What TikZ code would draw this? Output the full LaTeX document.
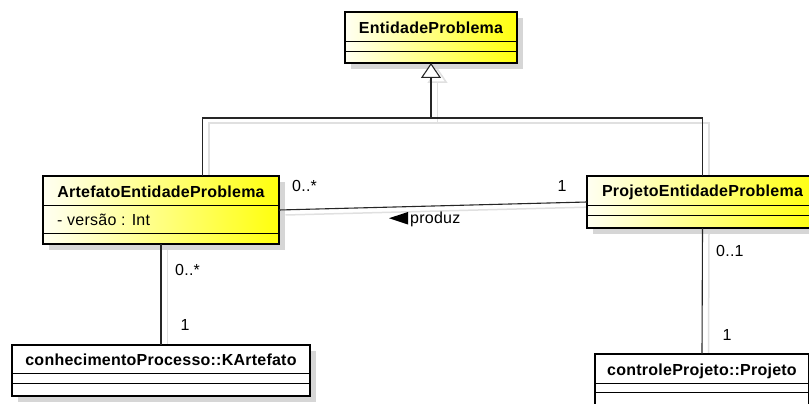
\documentclass[tikz,border=0pt]{standalone}
\usepackage{fontspec}
\setmainfont[LetterSpace=1.5]{Liberation Sans}
\usetikzlibrary{arrows.meta,shadows}

\tikzset{
  classbox/.style={draw=black, line width=1.8pt, inner sep=0pt, outer sep=0pt,
    anchor=north west, left color=yellow!5, right color=yellow!95!white,
    drop shadow={shadow xshift=6pt, shadow yshift=-6pt, fill=black!16, opacity=1}},
  plainbox/.style={draw=black, line width=1.8pt, inner sep=0pt, outer sep=0pt,
    anchor=north west, fill=white,
    drop shadow={shadow xshift=6pt, shadow yshift=-6pt, fill=black!16, opacity=1}},
  compart/.style={line width=1pt},
  conn/.style={draw=black!85, line width=1.1pt},
  connshadow/.style={draw=black!12, line width=1.5pt,
    transform canvas={xshift=6.5pt, yshift=-5pt}},
  title/.style={anchor=base, inner sep=0pt, font=\fontsize{16}{19}\selectfont\bfseries},
  attr/.style={anchor=base west, inner sep=0pt, font=\fontsize{16}{19}\selectfont},
  mult/.style={anchor=base west, inner sep=0pt, font=\fontsize{16}{19}\selectfont},
  gentip/.style={-{Triangle[fill=white, length=15pt, width=20pt]}}
}

\begin{document}
\begin{tikzpicture}[x=1pt, y=-1pt]
\useasboundingbox (0,0) rectangle (809,404);
\clip (0,0) rectangle (809,404);

% class boxes (geometry only, texts follow)
\node[classbox, minimum width=172pt, minimum height=51pt] (ent) at (345,12) {};
\node[classbox, minimum width=236pt, minimum height=68pt] (art) at (43,176) {};
\node[classbox, minimum width=231pt, minimum height=52pt] (proj) at (587,176) {};
\node[plainbox, minimum width=298pt, minimum height=51pt] (kart) at (12,345) {};
\node[plainbox, minimum width=214pt, minimum height=54pt] (cproj) at (595,354) {};

% junction of the generalization tree
\coordinate (gj) at (431,118);
\coordinate (artTop) at (202.5,176);

% connector shadows
\draw[connshadow] (artTop) |- (gj) -| (proj.north);
\draw[connshadow, gentip] (gj) -- (ent.south);
\draw[connshadow] (art.east) -- (proj.west);
\draw[connshadow] (art.south) -- (kart.north);
\draw[connshadow] (proj.south) -- (cproj.north);

% redraw boxes above the connector shadows
\node[classbox, minimum width=172pt, minimum height=51pt] at (345,12) {};
\node[classbox, minimum width=236pt, minimum height=68pt] at (43,176) {};
\node[classbox, minimum width=231pt, minimum height=52pt] at (587,176) {};
\node[plainbox, minimum width=298pt, minimum height=51pt] at (12,345) {};
\node[plainbox, minimum width=214pt, minimum height=54pt] at (595,354) {};

% compartments
\draw[compart] ([yshift=-30pt]ent.north west) -- ([yshift=-30pt]ent.north east);
\draw[compart] ([yshift=-40pt]ent.north west) -- ([yshift=-40pt]ent.north east);
\draw[compart] ([yshift=-29pt]art.north west) -- ([yshift=-29pt]art.north east);
\draw[compart] ([yshift=-57pt]art.north west) -- ([yshift=-57pt]art.north east);
\draw[compart] ([yshift=-29pt]proj.north west) -- ([yshift=-29pt]proj.north east);
\draw[compart] ([yshift=-39pt]proj.north west) -- ([yshift=-39pt]proj.north east);
\draw[compart] ([yshift=-28pt]kart.north west) -- ([yshift=-28pt]kart.north east);
\draw[compart] ([yshift=-38pt]kart.north west) -- ([yshift=-38pt]kart.north east);
\draw[compart] ([yshift=-29pt]cproj.north west) -- ([yshift=-29pt]cproj.north east);
\draw[compart] ([yshift=-38pt]cproj.north west) -- ([yshift=-38pt]cproj.north east);

% class names and attributes
\node[title] (entT) at ([yshift=-21.5pt]ent.north) {EntidadeProblema};
\node[title] (artT) at ([yshift=-21.3pt]art.north) {ArtefatoEntidadeProblema};
\node[attr] (artA) at (57,225) {- versão : Int};
\node[title] (projT) at (702.5,196.7) {ProjetoEntidadeProblema};
\node[title] (kartT) at ([yshift=-20pt]kart.north) {conhecimentoProcesso::KArtefato};
\node[title] (cprojT) at ([yshift=-21pt]cproj.north) {controleProjeto::Projeto};

% connectors
\draw[conn] (artTop) |- (gj) -| (proj.north);
\draw[conn, gentip] (gj) -- (ent.south);
\draw[conn] (art.east) -- (proj.west);
\draw[conn] (art.south) -- (kart.north);
\draw[conn] (proj.south) -- (cproj.north);

% association name with reading direction
\node[mult] (produz) at (410,223) {produz};
\fill ([xshift=-2pt, yshift=11pt]produz.base west) -- ([xshift=-2pt, yshift=-1.5pt]produz.base west)
  -- ([xshift=-21pt, yshift=4.8pt]produz.base west) -- cycle;

% multiplicities
\node[mult] (m1) at (292,191.7) {0..*};
\node[mult] (m2) at (557.5,191) {1};
\node[mult] (m3) at (175,275) {0..*};
\node[mult] (m4) at (180.5,330.7) {1};
\node[mult] (m5) at (716,256.7) {0..1};
\node[mult] (m6) at (722.5,340) {1};
\end{tikzpicture}
\end{document}
